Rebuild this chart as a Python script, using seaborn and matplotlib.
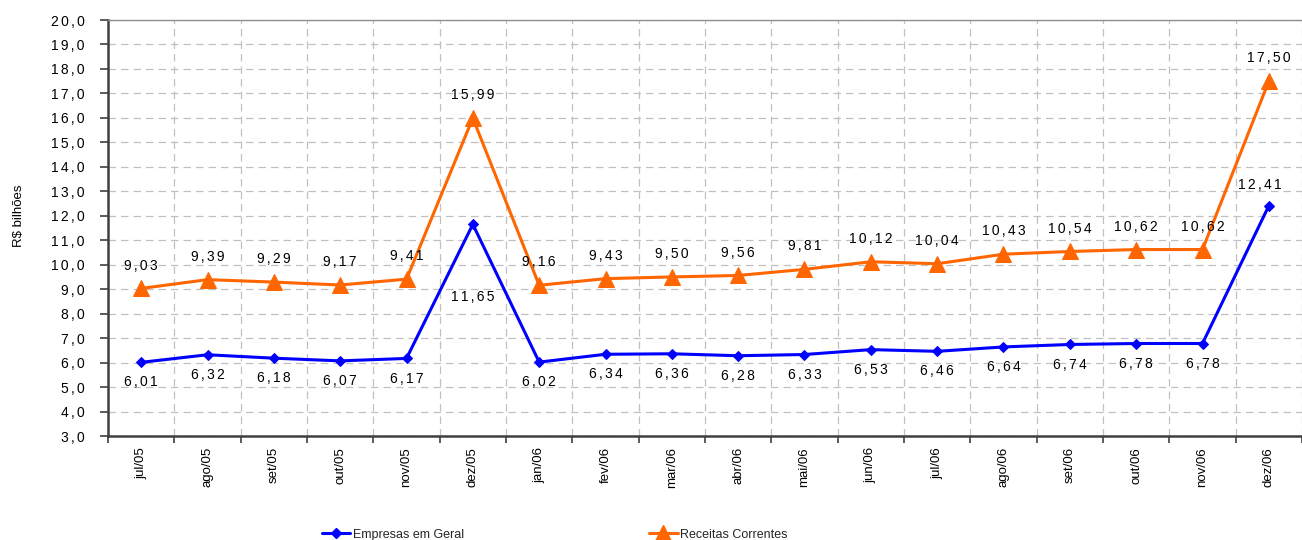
import matplotlib
matplotlib.use("Agg")
import matplotlib.pyplot as plt
from matplotlib.ticker import FixedLocator, FuncFormatter
from matplotlib.lines import Line2D
import seaborn as sns
import pandas as pd
import numpy as np

# Monthly revenue series, R$ billions
months = ["jul/05", "ago/05", "set/05", "out/05", "nov/05", "dez/05",
          "jan/06", "fev/06", "mar/06", "abr/06", "mai/06", "jun/06",
          "jul/06", "ago/06", "set/06", "out/06", "nov/06", "dez/06"]
empresas = [6.01, 6.32, 6.18, 6.07, 6.17, 11.65, 6.02, 6.34, 6.36, 6.28,
            6.33, 6.53, 6.46, 6.64, 6.74, 6.78, 6.78, 12.41]
receitas = [9.03, 9.39, 9.29, 9.17, 9.41, 15.99, 9.16, 9.43, 9.50, 9.56,
            9.81, 10.12, 10.04, 10.43, 10.54, 10.62, 10.62, 17.50]
series_names = ["Empresas em Geral", "Receitas Correntes"]
y_ticks = list(range(3, 21))

BLUE = "#0000FF"
ORANGE = "#FF6600"
GRID = "#C0C0C0"
AXIS = "#404040"

sns.set_theme(style="white")
plt.rcParams["font.family"] = ["Liberation Sans", "DejaVu Sans"]


def spaced(s):
    # widen the tracking of a label with six-per-em spaces
    return "\u2006".join(s)


def br(v, nd=2):
    return f"{v:.{nd}f}".replace(".", ",")


df = pd.DataFrame({
    "mes": months * 2,
    "valor": empresas + receitas,
    "serie": [series_names[0]] * len(months) + [series_names[1]] * len(months),
})
df["x"] = df.groupby("serie").cumcount()

fig = plt.figure(figsize=(13.02, 5.4), dpi=100)
ax = fig.add_axes([108 / 1302, 104 / 540, 1194 / 1302, 416 / 540])

sns.lineplot(data=df[df["serie"] == series_names[0]], x="x", y="valor",
             color=BLUE, linewidth=2.2, marker="D", markersize=5,
             markeredgecolor=BLUE, ax=ax, legend=False)
sns.lineplot(data=df[df["serie"] == series_names[1]], x="x", y="valor",
             color=ORANGE, linewidth=2.2, marker="^", markersize=11,
             markeredgecolor=ORANGE, ax=ax, legend=False)

n = len(months)
ax.set_xlim(-0.5, n - 0.5)
ax.set_ylim(3, 20)

# category labels in the middle, tick marks and grid on the boundaries
ax.xaxis.set_major_locator(FixedLocator(np.arange(n)))
ax.set_xticklabels(months, rotation=90, fontsize=9.5, color="#000000")
ax.xaxis.set_minor_locator(FixedLocator(np.arange(n + 1) - 0.5))
ax.tick_params(axis="x", which="major", length=0, pad=8)
ax.tick_params(axis="x", which="minor", length=5, width=1.2, color=AXIS,
               direction="out", bottom=True)
ax.grid(True, axis="x", which="minor", color=GRID, linestyle=(0, (6, 4)), linewidth=0.9)

ax.yaxis.set_major_locator(FixedLocator(y_ticks))
ax.yaxis.set_major_formatter(FuncFormatter(lambda v, p: spaced(br(v, 1))))
ax.tick_params(axis="y", which="major", length=6, width=1.2, color=AXIS,
               direction="out", left=True, labelsize=10, pad=11, labelcolor="#000000")
ax.grid(True, axis="y", which="major", color=GRID, linestyle=(0, (6, 4)), linewidth=0.9)
ax.set_axisbelow(True)

ax.set_xlabel("")
ax.set_ylabel("R$ bilhões", fontsize=9.5, color="#000000")
ax.yaxis.set_label_coords(-0.0695, 0.529)

for side in ["left", "bottom"]:
    ax.spines[side].set_color(AXIS)
    ax.spines[side].set_linewidth(1.8)
ax.spines["top"].set_color("#909090")
ax.spines["top"].set_linewidth(1.0)
ax.spines["right"].set_visible(False)

# value labels: Receitas above the markers, Empresas below
for i, v in enumerate(receitas):
    ax.annotate(spaced(br(v)), (i, v), xytext=(0, 16.5), textcoords="offset points",
                ha="center", va="center", fontsize=10, color="#000000")
for i, v in enumerate(empresas):
    dx, dy = 0, -14.5
    if i == 5:
        dy = -52.5
    elif i == n - 1:
        dx, dy = -6.5, 15
    ax.annotate(spaced(br(v)), (i, v), xytext=(dx, dy), textcoords="offset points",
                ha="center", va="center", fontsize=10, color="#000000")

handles = [
    Line2D([], [], color=BLUE, linewidth=2.2, marker="D", markersize=5),
    Line2D([], [], color=ORANGE, linewidth=2.2, marker="^", markersize=11),
]
fig.legend(handles, series_names, loc="center",
           bbox_to_anchor=(0.426, 0.01), ncol=2, frameon=False, fontsize=9,
           handlelength=2.3, handletextpad=0.2, columnspacing=14.8,
           borderaxespad=0, borderpad=0)

fig.savefig("out.png", dpi=100)
